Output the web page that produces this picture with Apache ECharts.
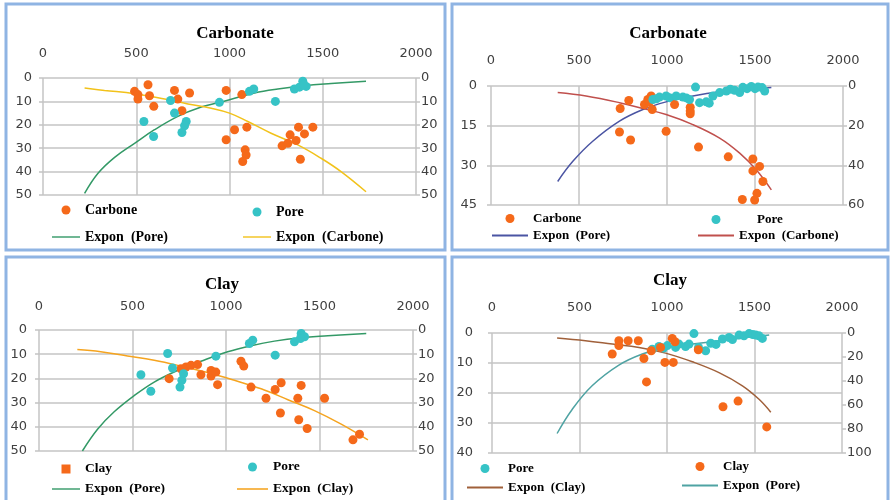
<!DOCTYPE html>
<html>
<head>
<meta charset="utf-8">
<script src="https://cdn.jsdelivr.net/npm/echarts@6/dist/echarts.min.js"></script>
<style>
  html, body { margin: 0; padding: 0; background: #fff; }
  #chart { width: 890px; height: 500px; }
</style>
</head>
<body>
<div id="chart"></div>
<script>
// ---- data (x = top axis, y = depth-like left axis) ----

// top-left: Carbonate
var p1Carbone = [[491,5.7],[509,7.1],[509,9.0],[563,2.9],[571,7.6],[594,12.1],[705,5.3],[723,9.0],[745,14.0],[786,6.4],
  [982,5.3],[1066,7.1],[982,26.4],[1027,22.1],[1093,21.0],[1084,30.7],[1089,32.9],[1071,35.7],[1282,29.0],[1313,27.9],
  [1325,24.3],[1357,26.7],[1370,21.0],[1402,23.9],[1447,21.0],[1380,34.7]];
var p1Pore = [[541,18.6],[593,25.0],[684,9.6],[705,15.0],[768,18.6],[759,20.4],[745,23.3],[946,10.4],[1107,5.7],[1130,4.7],
  [1246,10.0],[1348,4.7],[1375,3.9],[1393,1.4],[1411,3.6],[1398,2.9]];
var p1PoreTrend = [[223,49.3],[295,40.7],[384,33.9],[491,27.9],[598,22.1],[723,16.4],[830,12.9],[1000,9.3],[1134,6.4],
  [1259,4.7],[1402,3.3],[1545,2.4],[1732,1.4]];
var p1CarboneTrend = [[223,4.3],[330,5.3],[491,6.7],[652,9.0],[777,11.1],[902,12.9],[1000,15.0],[1098,18.6],[1223,23.6],
  [1366,28.6],[1491,34.3],[1598,40.0],[1732,48.6]];

// top-right: Carbonate
var p2Carbone = [[734,8.5],[783,5.5],[730,17.4],[793,20.4],[872,7.0],[891,5.1],[910,3.8],[900,6.0],[916,8.9],[995,17.1],
  [1043,7.0],[1132,8.0],[1132,9.5],[1132,10.5],[1179,23.1],[1348,26.8],[1488,27.6],[1488,32.1],[1526,30.4],[1545,36.1],
  [1511,40.6],[1498,43.1],[1428,42.9]];
var p2Pore = [[920,5.1],[940,4.8],[957,4.2],[995,3.8],[1014,4.4],[1052,3.8],[1090,4.2],[1110,4.5],[1128,5.1],[1162,0.4],
  [1185,6.3],[1223,6.0],[1240,6.5],[1261,3.8],[1299,2.5],[1337,1.9],[1360,1.2],[1384,1.6],[1413,2.5],[1431,0.5],
  [1455,1.0],[1479,0.2],[1500,1.0],[1517,0.4],[1540,0.6],[1555,1.9]];
var p2PoreTrend = [[379,36.1],[465,28.5],[578,20.9],[730,13.3],[863,8.9],[995,6.0],[1147,3.8],[1299,2.2],[1450,1.3],[1593,0.6]];
var p2CarboneTrend = [[379,2.5],[540,3.8],[730,6.3],[863,8.5],[995,10.8],[1147,14.6],[1299,19.7],[1413,25.4],[1507,31.7],[1593,39.3]];

// bottom-left: Clay
var p3Clay = [[696,20.1],[759,16.0],[786,15.3],[813,14.6],[848,14.3],[866,18.5],[920,16.7],[920,19.0],[946,17.4],[955,22.6],
  [1080,12.9],[1095,14.9],[1134,23.6],[1214,28.2],[1263,24.6],[1295,21.8],[1291,34.3],[1384,28.2],[1402,22.9],[1389,37.1],
  [1434,40.7],[1527,28.2],[1679,45.4],[1714,43.1]];
var p3Pore = [[545,18.5],[598,25.3],[688,9.7],[714,15.7],[773,18.1],[764,20.8],[754,23.6],[946,10.8],[1125,5.6],[1143,4.2],
  [1263,10.4],[1366,4.9],[1402,1.4],[1420,2.8],[1398,3.5]];
var p3PoreTrend = [[232,50.0],[313,41.0],[402,33.8],[509,27.1],[616,21.5],[741,16.7],[866,12.9],[1009,9.0],[1134,6.5],
  [1259,4.6],[1402,3.2],[1545,2.4],[1750,1.4]];
var p3ClayTrend = [[205,8.1],[330,9.0],[473,10.7],[616,12.5],[759,14.9],[902,17.6],[1045,20.8],[1188,24.3],[1331,28.8],
  [1473,33.3],[1616,38.9],[1759,45.4]];

// bottom-right: Clay
var p4Pore = [[916,5.4],[954,4.5],[980,5.0],[1002,4.2],[1049,4.8],[1068,3.7],[1106,4.5],[1126,3.7],[1154,0.2],[1180,4.8],
  [1221,5.9],[1250,3.4],[1280,3.8],[1317,2.0],[1355,1.5],[1374,2.2],[1412,0.7],[1440,0.9],[1469,0.2],[1490,0.5],
  [1507,0.7],[1525,0.9],[1545,1.8]];
var p4Clay = [[687,7.0],[725,2.6],[725,4.2],[778,2.6],[836,2.6],[868,8.5],[883,16.3],[910,5.9],[963,4.8],[988,9.8],
  [1036,9.8],[1030,1.8],[1046,2.9],[1179,5.6],[1320,24.6],[1406,22.7],[1570,31.3]];
var p4ClayTrend = [[372,1.7],[534,2.6],[687,3.7],[840,4.8],[992,6.7],[1145,9.6],[1297,13.2],[1431,17.6],[1526,22.1],[1593,26.4]];
var p4PoreTrend = [[372,33.5],[458,25.5],[572,17.6],[725,10.7],[859,7.0],[992,4.8],[1145,3.7],[1297,2.6],[1450,1.5],[1584,0.7]];

// axis ranges [min, max, interval]
var xRange = [0, 2000, 500];
var leftRanges = [[0, 50, 10], [0, 45, 15], [0, 50, 10], [0, 40, 10]];
var rightRanges = [[0, 50, 10], [0, 60, 20], [0, 50, 10], [0, 100, 20]];
var titles = ['Carbonate', 'Carbonate', 'Clay', 'Clay'];

// legend labels by series name
var labels = {
  p1c: 'Carbone', p1p: 'Pore', p1tp: 'Expon  (Pore)', p1tc: 'Expon  (Carbone)',
  p2c: 'Carbone', p2p: 'Pore', p2tp: 'Expon  (Pore)', p2tc: 'Expon  (Carbone)',
  p3c: 'Clay', p3p: 'Pore', p3tp: 'Expon  (Pore)', p3tc: 'Expon  (Clay)',
  p4p: 'Pore', p4c: 'Clay', p4tc: 'Expon  (Clay)', p4tp: 'Expon  (Pore)'
};

var ORANGE = '#f5691a';
var CYAN = '#36c3c6';
var GRID = '#c4c4c4';
var LINE_ICON = 'path://M0,0H40V2H0Z';
var SQUARE_ICON = 'path://M0,0H10V10H0Z';

var grids = [
  { left: 43, top: 78, width: 373, height: 117 },
  { left: 491, top: 86, width: 352, height: 119 },
  { left: 39, top: 330, width: 374, height: 121 },
  { left: 492, top: 333, width: 350, height: 120 }
];
var labelMargins = [18, 19, 17, 19];
var leftMargins = [11, 14, 12, 19];
var titlePos = [[235, 25], [668, 25], [222, 276], [670, 272]];

function plain(v) { return String(v); }

var xAxes = [], yAxes = [], titleList = [];
for (var i = 0; i < 4; i++) {
  xAxes.push({
    gridIndex: i, type: 'value', position: 'top',
    min: xRange[0], max: xRange[1], interval: xRange[2],
    axisLine: { show: false }, axisTick: { show: false },
    axisLabel: { margin: labelMargins[i], color: '#404040', fontFamily: 'DejaVu Sans', fontSize: 13, formatter: plain },
    splitLine: { show: true, lineStyle: { color: GRID, width: 1.5 } }
  });
  yAxes.push({
    gridIndex: i, type: 'value', position: 'left', inverse: true,
    min: leftRanges[i][0], max: leftRanges[i][1], interval: leftRanges[i][2],
    axisLine: { show: false },
    axisTick: { show: true, length: 4, lineStyle: { color: GRID, width: 1.5 } },
    axisLabel: { margin: leftMargins[i], color: '#404040', fontFamily: 'DejaVu Sans', fontSize: 13, formatter: plain },
    splitLine: { show: true, lineStyle: { color: GRID, width: 1.5 } }
  });
  yAxes.push({
    gridIndex: i, type: 'value', position: 'right', inverse: true,
    min: rightRanges[i][0], max: rightRanges[i][1], interval: rightRanges[i][2],
    axisLine: { show: false },
    axisTick: { show: true, length: 4, lineStyle: { color: GRID, width: 1.5 } },
    axisLabel: { margin: 5, color: '#404040', fontFamily: 'DejaVu Sans', fontSize: 13, formatter: plain },
    splitLine: { show: false }
  });
  titleList.push({
    text: titles[i], left: titlePos[i][0], top: titlePos[i][1], textAlign: 'center', padding: 0,
    textStyle: { fontFamily: 'Liberation Serif', fontWeight: 'bold', fontSize: 17, color: '#000' }
  });
}

function dots(name, idx, data, color, symbol) {
  return {
    name: name, type: 'scatter', xAxisIndex: idx, yAxisIndex: idx * 2,
    data: data, symbol: symbol || 'circle', symbolSize: 9, itemStyle: { color: color, opacity: 1 }, z: 3
  };
}
function trend(name, idx, data, color) {
  return {
    name: name, type: 'line', xAxisIndex: idx, yAxisIndex: idx * 2,
    data: data, smooth: 0.4, showSymbol: false, symbol: 'none',
    lineStyle: { color: color, width: 1.5 }, itemStyle: { color: color }, z: 2
  };
}

var series = [
  dots('p1c', 0, p1Carbone, ORANGE), dots('p1p', 0, p1Pore, CYAN),
  trend('p1tp', 0, p1PoreTrend, '#339966'), trend('p1tc', 0, p1CarboneTrend, '#f2c21a'),
  dots('p2c', 1, p2Carbone, ORANGE), dots('p2p', 1, p2Pore, CYAN),
  trend('p2tp', 1, p2PoreTrend, '#4b55a3'), trend('p2tc', 1, p2CarboneTrend, '#c0504d'),
  dots('p3c', 2, p3Clay, ORANGE), dots('p3p', 2, p3Pore, CYAN),
  trend('p3tp', 2, p3PoreTrend, '#339966'), trend('p3tc', 2, p3ClayTrend, '#f5a41f'),
  dots('p4p', 3, p4Pore, CYAN), dots('p4c', 3, p4Clay, ORANGE),
  trend('p4tc', 3, p4ClayTrend, '#a0603a'), trend('p4tp', 3, p4PoreTrend, '#4fa3a3')
];

function legendCol(items, left, top, iw, gap, size) {
  return {
    orient: 'vertical', left: left, top: top, padding: 0,
    itemWidth: iw, itemHeight: 9, itemGap: gap, selectedMode: false,
    data: items,
    formatter: function (n) { return labels[n]; },
    textStyle: { fontFamily: 'Liberation Serif', fontWeight: 'bold', fontSize: size, color: '#000' }
  };
}
function lineItem(name) { return { name: name, icon: LINE_ICON }; }

var legends = [
  legendCol(['p1c', lineItem('p1tp')], 52, 203, 28, 13, 14),
  legendCol(['p1p', lineItem('p1tc')], 243, 205, 28, 11, 14),
  legendCol(['p2c', lineItem('p2tp')], 492, 212, 36, 4, 13),
  legendCol([{ name: 'p2p', textStyle: { padding: [0, 0, 0, 18] } }, lineItem('p2tc')], 698, 213, 36, 3, 13),
  legendCol([{ name: 'p3c', icon: SQUARE_ICON }, lineItem('p3tp')], 52, 462, 28, 6, 13.5),
  legendCol(['p3p', lineItem('p3tc')], 237, 460, 31, 8, 13.5),
  legendCol(['p4p', lineItem('p4tc')], 467, 462, 36, 6, 13),
  legendCol(['p4c', lineItem('p4tp')], 682, 460, 36, 6, 13)
];

var frame = { stroke: '#8fb4e3', lineWidth: 3, fill: 'none' };
var chart = echarts.init(document.getElementById('chart'));
chart.setOption({
  animation: false,
  backgroundColor: '#fff',
  title: titleList,
  legend: legends,
  grid: grids,
  xAxis: xAxes,
  yAxis: yAxes,
  series: series,
  graphic: [
    { type: 'rect', shape: { x: 6, y: 4, width: 439, height: 246 }, style: frame, silent: true },
    { type: 'rect', shape: { x: 452, y: 4, width: 436, height: 246 }, style: frame, silent: true },
    { type: 'rect', shape: { x: 6, y: 257, width: 439, height: 250 }, style: frame, silent: true },
    { type: 'rect', shape: { x: 452, y: 257, width: 436, height: 250 }, style: frame, silent: true }
  ]
});
</script>
</body>
</html>
